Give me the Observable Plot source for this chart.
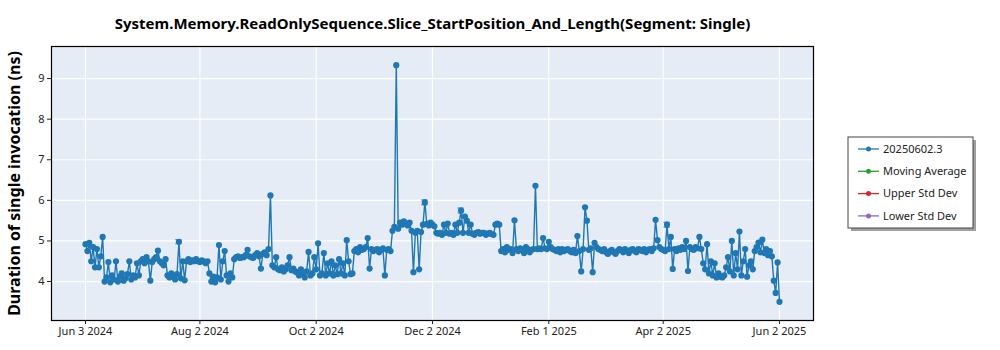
<!DOCTYPE html>
<html><head><meta charset="utf-8">
<script src="https://cdn.jsdelivr.net/npm/d3@7"></script>
<script src="https://cdn.jsdelivr.net/npm/@observablehq/plot@0.6"></script>
<style>body{margin:0;background:#fff;font-family:"Noto Sans",sans-serif}</style>
</head><body><div id="chart"></div>
<script>
const chartTitle = "System.Memory.ReadOnlySequence.Slice_StartPosition_And_Length(Segment: Single)";
const yLabel = "Duration of single invocation (ns)";
const startDate = [2024, 5, 3]; // Jun 3 2024, one value per day
const durations = [
  4.92, 4.75, 4.95, 4.5, 4.85, 4.35, 4.8, 4.35, 4.62, 5.1,
  4.0, 4.1, 4.48, 3.98, 4.15, 4.05, 4.5, 4.0, 4.12, 4.2, 4.02, 4.08, 4.18, 4.5, 4.05, 4.15, 4.1,
  4.45, 4.15, 4.5, 4.55, 4.45, 4.6, 4.5, 4.02, 4.48, 4.55, 4.6, 4.76, 4.5, 4.45, 4.4, 4.55,
  4.15, 4.1, 4.2, 4.12, 4.05, 4.18, 4.98, 4.08, 4.5, 4.03, 4.5, 4.55, 4.48, 4.52, 4.5, 4.55, 4.5, 4.48, 4.52, 4.5, 4.45, 4.5, 4.2,
  4.0, 4.12, 3.98, 4.1, 4.9, 4.05, 4.5, 4.75, 4.15, 4.0, 4.2, 4.1,
  4.55, 4.6, 4.62, 4.58, 4.6, 4.6, 4.65, 4.78, 4.62, 4.6, 4.58, 4.65, 4.7, 4.62, 4.32, 4.68, 4.72, 4.65, 4.8,
  6.12,
  4.4, 4.35, 4.6, 4.3, 4.28, 4.35, 4.25, 4.3, 4.4, 4.6, 4.28, 4.32, 4.25, 4.22,
  4.15, 4.3, 4.2, 4.1, 4.25, 4.73, 4.15, 4.2, 4.6, 4.3, 4.94, 4.15, 4.2, 4.7, 4.15,
  4.45, 4.2, 4.5, 4.15, 4.4, 4.18, 4.55, 4.2, 4.45, 4.15, 5.02, 4.5, 4.18, 4.2,
  4.75, 4.8, 4.72, 4.85, 4.78, 4.8, 4.85, 5.07, 4.32, 4.8, 4.75, 4.78, 4.8, 4.72, 4.78, 4.82, 4.15, 4.78, 4.8, 4.75,
  5.25, 5.35, 9.33, 5.3,
  5.45, 5.4, 5.48, 5.42, 5.38, 5.45, 5.25,
  4.23, 5.2, 5.25, 4.3, 5.22, 5.4, 5.95, 5.42, 5.38, 5.45, 5.4, 5.36, 5.2,
  5.18, 5.2, 5.15, 5.4, 5.2, 5.43, 5.18, 5.2, 5.15, 5.4, 5.2, 5.45, 5.75, 5.2, 5.6, 5.5, 5.2, 5.4, 5.18, 5.15, 5.2, 5.22, 5.18, 5.2, 5.2, 5.15, 5.18, 5.2, 5.17, 5.15, 5.4, 5.43, 5.4,
  4.75, 4.8, 4.72, 4.85, 4.78, 4.8, 4.7, 5.51, 4.8, 4.75, 4.82, 4.78, 4.7, 4.85, 4.8, 4.72, 4.78, 4.8, 6.36, 4.8, 4.82, 4.8, 5.07, 4.82, 4.8, 4.98, 4.85, 4.8, 4.78, 4.75, 4.8, 4.72, 4.8, 4.75, 4.78,
  4.8, 4.75, 4.72, 4.78, 4.7, 5.12, 4.75, 4.25, 4.8, 5.83, 5.5, 4.78, 4.82, 4.23, 4.95, 4.85, 4.8, 4.78, 4.75, 4.8,
  4.72, 4.68, 4.75, 4.78, 4.72, 4.68, 4.75, 4.8, 4.78, 4.72, 4.8, 4.75, 4.7, 4.78, 4.8, 4.75, 4.72, 4.8, 4.78, 4.75,
  4.8, 4.72, 4.78, 4.8, 4.75, 4.82, 5.52, 5.02, 4.85, 4.8, 4.78, 4.75, 5.4, 4.8, 5.1, 4.31, 4.8, 4.75, 4.82, 4.78,
  4.85, 4.8, 5.0, 4.26, 4.85, 4.8, 4.78, 4.85, 4.82, 5.1, 4.8,
  4.45, 4.3, 4.92, 4.2, 4.5, 4.15, 4.45, 4.1, 4.2, 4.12, 4.1, 4.15,
  4.35, 4.6, 4.25, 5.0, 4.15, 4.7, 4.3, 5.23, 4.15, 4.5, 4.8, 4.12, 4.4, 4.5,
  4.3, 4.75, 4.85, 4.96, 4.72, 5.03, 4.7, 4.8, 4.65, 4.75, 4.62,
  4.02, 3.72, 4.47, 3.5
];
const xTickDates = ["2024-06-03", "2024-08-02", "2024-10-02", "2024-12-02", "2025-02-01", "2025-04-02", "2025-06-02"];
const yTicks = [4, 5, 6, 7, 8, 9];
const legendLabels = ["20250602.3", "Moving Average", "Upper Std Dev", "Lower Std Dev"];
const legendColors = ["#1f77b4", "#2ca02c", "#d62728", "#9467bd"];
const errorDays = [49, 178, 197, 305];
const errorSizes = [0.05, 0.06, 0.06, 0.06];

const DAY = 864e5;
const data = durations.map((v, i) => ({date: new Date(Date.UTC(startDate[0], startDate[1], startDate[2] + i)), value: v}));
const errs = errorDays.map((d, i) => ({
  date: data[d].date,
  left: new Date(+data[d].date - 1.6 * DAY),
  right: new Date(+data[d].date + 1.6 * DAY),
  lo: data[d].value - errorSizes[i], hi: data[d].value + errorSizes[i]
}));
const parse = d3.utcParse("%Y-%m-%d");

const chart = Plot.plot({
  width: 1000, height: 350,
  marginLeft: 51, marginRight: 187, marginTop: 46, marginBottom: 30,
  style: {fontFamily: "Noto Sans, sans-serif", fontSize: "11px", color: "#222", background: "#fff", overflow: "visible"},
  x: {type: "utc", domain: [new Date(Date.UTC(2024, 4, 16, 4)), new Date(Date.UTC(2025, 5, 19, 20))], label: null},
  y: {domain: [3.04, 9.79], label: null},
  marks: [
    Plot.frame({fill: "#e5ecf6"}),
    Plot.gridX(xTickDates.map(parse), {stroke: "#fff", strokeOpacity: 1, strokeWidth: 1.2}),
    Plot.gridY(yTicks, {stroke: "#fff", strokeOpacity: 1, strokeWidth: 1.2}),
    Plot.line(data, {x: "date", y: "value", stroke: "#1f77b4", strokeWidth: 1.4}),
    Plot.ruleX(errs, {x: "date", y1: "lo", y2: "hi", stroke: "#1f77b4"}),
    Plot.ruleY(errs, {y: "lo", x1: "left", x2: "right", stroke: "#1f77b4"}),
    Plot.ruleY(errs, {y: "hi", x1: "left", x2: "right", stroke: "#1f77b4"}),
    Plot.dot(data, {x: "date", y: "value", r: 3.1, fill: "#1f77b4", stroke: "none"}),
    Plot.frame({stroke: "#000", strokeWidth: 1.2}),
    Plot.axisX(xTickDates.map(parse), {tickFormat: d3.utcFormat("%b %-d %Y"), tickSize: 4, tickPadding: 3, fontSize: 11, label: null}),
    Plot.axisY(yTicks, {tickSize: 4, tickPadding: 3, fontSize: 11, label: null}),
    Plot.text([chartTitle], {frameAnchor: "top", dy: -28, fontWeight: "bold", fontSize: 15, fill: "#000"}),
    Plot.text([yLabel], {frameAnchor: "left", textAnchor: "middle", dx: -37, rotate: -90, fontWeight: "bold", fontSize: 16, fill: "#000"})
  ]
});

const svg = d3.select(chart);
const lg = svg.append("g").attr("font-family", "Noto Sans, sans-serif").attr("font-size", 11).attr("text-anchor", "start");
lg.append("rect").attr("x", 851).attr("y", 140).attr("width", 125).attr("height", 91).attr("fill", "#a0a0a0");
lg.append("rect").attr("x", 848).attr("y", 137).attr("width", 125).attr("height", 91).attr("fill", "#fff").attr("stroke", "#444").attr("stroke-width", 1);
legendLabels.forEach((lab, i) => {
  const y = 149 + i * 22.3;
  lg.append("line").attr("x1", 858).attr("x2", 879).attr("y1", y).attr("y2", y).attr("stroke", legendColors[i]).attr("stroke-width", 1.3);
  lg.append("circle").attr("cx", 868.5).attr("cy", y).attr("r", 2.5).attr("fill", legendColors[i]);
  lg.append("text").attr("x", 883).attr("y", y).attr("dy", "0.35em").attr("fill", "#222").attr("text-anchor", "start").text(lab);
});
document.getElementById("chart").appendChild(chart);
</script>
</body></html>
